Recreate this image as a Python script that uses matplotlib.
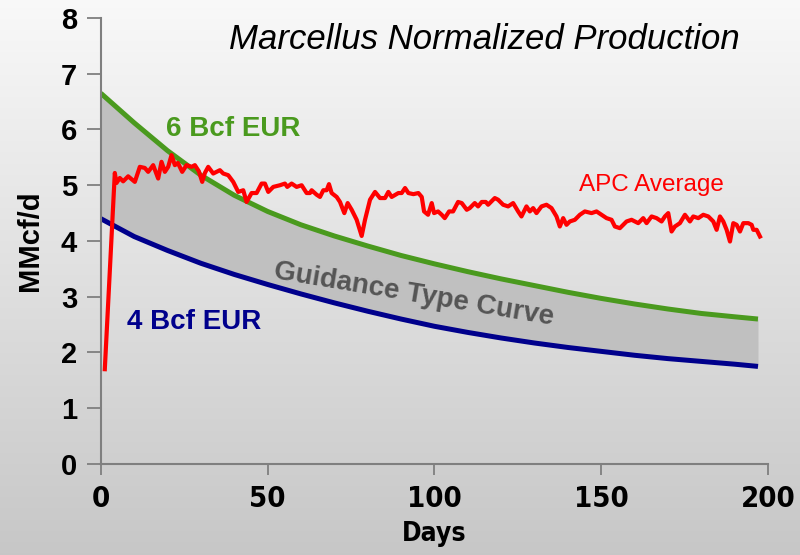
import numpy as np
import matplotlib.pyplot as plt

# APC Average (red)
apc_days = [1.2, 4.2, 4.7, 5.7, 6.7, 8.2, 10.2, 11.7, 13.2, 14.2, 15.7, 17.2, 18.2, 19.2, 20.2,
            21.2, 22.2, 23.1, 24.4, 25.7, 27.2, 28.2, 29.4, 30.4, 31.2, 32.2, 33.7, 35.7, 36.7,
            38.2, 39.7, 41.2, 42.7, 43.7, 45.2, 46.7, 48.2, 49.2, 50.2, 51.7, 53.7, 55.2, 55.9,
            57.2, 58.7, 60.2, 61.7, 62.7, 63.2, 64.7, 65.7, 66.7, 67.7, 68.4, 69.2, 70.7, 71.7,
            73.0, 74.0, 75.2, 76.7, 78.2, 79.2, 80.7, 82.2, 83.7, 85.2, 86.2, 87.2, 89.2, 90.2,
            91.2, 92.2, 93.7, 95.2, 96.2, 96.9, 98.1, 99.2, 99.9, 101.1, 102.2, 103.1, 104.4,
            105.6, 107.1, 108.2, 109.7, 110.6, 112.1, 113.1, 114.2, 115.4, 116.1, 118.1, 119.1,
            120.6, 122.1, 123.6, 125.1, 126.1, 127.6, 128.6, 129.6, 130.6, 132.1, 133.6, 135.1,
            136.6, 137.6, 138.6, 139.6, 140.6, 142.1, 143.6, 145.1, 147.1, 148.6, 150.1, 151.6,
            153.1, 154.1, 155.6, 157.6, 159.1, 160.1, 161.1, 162.6, 163.6, 165.1, 166.6, 168.1,
            169.1, 170.1, 171.1, 172.1, 173.6, 175.1, 176.6, 177.6, 179.1, 180.6, 182.1, 183.6,
            184.6, 185.6, 186.6, 187.6, 188.6, 189.6, 190.6, 191.6, 192.6, 194.1, 195.1, 195.6,
            196.6, 197.6]
apc_rate = [1.70, 5.22, 5.04, 5.13, 5.07, 5.16, 5.06, 5.33, 5.31, 5.24, 5.36, 5.12, 5.42, 5.24, 5.33,
            5.54, 5.36, 5.40, 5.24, 5.36, 5.33, 5.36, 5.25, 5.06, 5.22, 5.33, 5.21, 5.27, 5.21,
            5.18, 5.06, 4.88, 4.91, 4.70, 4.86, 4.86, 5.03, 5.03, 4.88, 4.97, 5.00, 5.03, 4.97,
            5.03, 4.97, 5.00, 4.86, 4.86, 4.91, 4.83, 4.79, 4.91, 4.91, 5.02, 4.86, 4.79, 4.70,
            4.50, 4.68, 4.56, 4.38, 4.09, 4.38, 4.74, 4.88, 4.77, 4.77, 4.88, 4.79, 4.86, 4.86,
            4.95, 4.86, 4.84, 4.86, 4.79, 4.53, 4.47, 4.68, 4.50, 4.53, 4.47, 4.41, 4.53,
            4.53, 4.70, 4.68, 4.56, 4.59, 4.68, 4.62, 4.70, 4.70, 4.65, 4.77, 4.74,
            4.65, 4.62, 4.68, 4.53, 4.44, 4.62, 4.53, 4.59, 4.50, 4.62, 4.65, 4.59,
            4.44, 4.26, 4.41, 4.29, 4.35, 4.38, 4.47, 4.53, 4.50, 4.53, 4.47, 4.41,
            4.38, 4.26, 4.23, 4.35, 4.38, 4.35, 4.32, 4.41, 4.32, 4.44, 4.41, 4.35,
            4.44, 4.50, 4.17, 4.26, 4.32, 4.47, 4.35, 4.44, 4.41, 4.47, 4.44, 4.35,
            4.20, 4.44, 4.35, 4.20, 3.99, 4.32, 4.29, 4.17, 4.32, 4.32, 4.29, 4.20,
            4.20, 4.08]

# type curves (6 and 4 Bcf EUR), read every 10 days
eur_days = [0, 10, 20, 30, 40, 50, 60, 70, 80, 90, 100, 110, 120, 130, 140, 150, 160, 170,
            180, 190, 197]
eur6_rate = [6.65, 6.12, 5.62, 5.18, 4.82, 4.53, 4.29, 4.09, 3.91, 3.74, 3.59, 3.45, 3.32, 3.20,
             3.08, 2.97, 2.87, 2.78, 2.70, 2.64, 2.60]
eur4_rate = [4.40, 4.08, 3.83, 3.60, 3.40, 3.22, 3.05, 2.89, 2.74, 2.60, 2.47, 2.36, 2.26, 2.17,
             2.09, 2.02, 1.95, 1.89, 1.84, 1.79, 1.75]

x_ticks = [0, 50, 100, 150, 200]
y_ticks = [0, 1, 2, 3, 4, 5, 6, 7, 8]

fig = plt.figure(figsize=(8, 5.55), dpi=100)

# tlo z gradientem
bg = fig.add_axes([0, 0, 1, 1], zorder=-10)
grad = np.linspace(0.975, 0.78, 256).reshape(-1, 1)
bg.imshow(np.dstack([grad, grad, grad]), aspect='auto', extent=[0, 1, 0, 1])
bg.axis('off')

ax = fig.add_axes([0.126, 0.164, 0.834, 0.8036])
ax.patch.set_alpha(0)

# szary obszar miedzy krzywymi
ax.fill_between(eur_days, eur4_rate, eur6_rate, color='#c0c0c0', lw=0)
ax.plot(eur_days, eur6_rate, color='#4a9a1e', lw=3.6, solid_capstyle='butt')
ax.plot(eur_days, eur4_rate, color='#00008c', lw=3.6, solid_capstyle='butt')
ax.plot(apc_days, apc_rate, color='#ff0000', lw=3.0, solid_joinstyle='round')

ax.set_xlim(0, 200)
ax.set_ylim(0, 8)
ax.set_xticks(x_ticks)
ax.set_yticks(y_ticks)
for s in ['top', 'right']:
    ax.spines[s].set_visible(False)
for s in ['left', 'bottom']:
    ax.spines[s].set_color('#7f7f7f')
    ax.spines[s].set_linewidth(1.5)
ax.tick_params(axis='y', direction='out', length=10, width=1.3, color='#7f7f7f', pad=7)
ax.tick_params(axis='x', direction='out', length=8, width=1.3, color='#7f7f7f', pad=7)
for t in ax.get_yticklabels():
    t.set_fontfamily(['Liberation Sans', 'DejaVu Sans'])
    t.set_fontweight('bold')
    t.set_fontsize(21)
for t in ax.get_xticklabels():
    t.set_fontfamily('DejaVu Sans')
    t.set_fontstretch('condensed')
    t.set_fontweight('bold')
    t.set_fontsize(21)

ax.set_xlabel('Days', family='DejaVu Sans', stretch='condensed', fontweight='bold',
              fontsize=19, labelpad=6)
ax.set_ylabel('MMcf/d', family=['Liberation Sans', 'DejaVu Sans'], fontweight='bold',
              fontsize=21, labelpad=12)

ax.text(39.6, 6.0, '6 Bcf EUR', color='#4a9a1e', fontsize=20, fontweight='bold',
        family='Liberation Sans', ha='center', va='center')
ax.text(28, 2.55, '4 Bcf EUR', color='#00008c', fontsize=20, fontweight='bold',
        family='Liberation Sans', ha='center', va='center')
ax.text(165, 5.0, 'APC Average', color='#ff0000', fontsize=17.5,
        family='Liberation Sans', ha='center', va='center')
ax.text(94, 3.03, 'Guidance Type Curve', color='#555555', fontsize=20, fontweight='bold',
        family='Liberation Sans', ha='center', va='center', rotation=-9.5)

fig.text(0.605, 0.928, 'Marcellus Normalized Production', fontsize=25, style='italic',
         family='Liberation Sans', ha='center', va='center')

fig.savefig('out.png', dpi=100)
